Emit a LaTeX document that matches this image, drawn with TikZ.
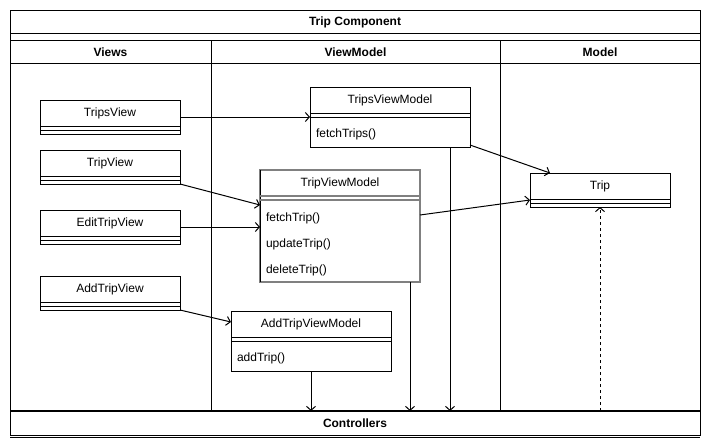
\documentclass[tikz,border=0pt]{standalone}
\usepackage{fontspec}
\setmainfont{Liberation Sans}
\usetikzlibrary{arrows.meta}
\definecolor{hlgray}{RGB}{128,128,128}
\tikzset{
  every node/.style={inner sep=0pt, outer sep=0pt},
  cls/.style={draw=black, line width=1pt, fill=white, rectangle},
  txt/.style={font=\fontsize{12}{14}\selectfont},
  hdr/.style={font=\fontsize{12}{14}\selectfont\bfseries},
  meth/.style={font=\fontsize{12}{14}\selectfont, anchor=west},
  conn/.style={draw=black, line width=1pt, -{Straight Barb[length=4pt, width=9pt, line width=1pt]}},
  dconn/.style={conn, dash pattern=on 3pt off 3pt},
  frame/.style={draw=black, line width=1pt},
}
% name, x, y, width, height, title
\newcommand\umlbox[6]{%
  \node[cls, minimum width=#4pt, minimum height=#5pt, anchor=north west] (#1) at (#2,#3) {};
  \node[txt] (#1-t) at ([yshift=-13pt]#1.north) {#6};
  \draw[line width=1pt] ([yshift=-26pt]#1.north west) -- ([yshift=-26pt]#1.north east);
  \draw[line width=1pt] ([yshift=-30pt]#1.north west) -- ([yshift=-30pt]#1.north east);
}
\begin{document}
\begin{tikzpicture}[x=1pt, y=-1pt]
\useasboundingbox (0,0) rectangle (711,447);
% outer frame
\draw[frame] (10,10) rectangle (700,435);
\draw[frame] (10,33) -- (700,33);
\draw[frame] (10,40) -- (700,40);
\draw[frame] (10,63) -- (700,63);
\draw[frame] (211,40) -- (211,411);
\draw[frame] (500,40) -- (500,411);
\draw[frame] (10,437) -- (700,437);
\node[hdr] (title) at (355,22) {Trip Component};
\node[hdr] (views) at (110.5,52) {Views};
\node[hdr] (vm) at (355.5,52) {ViewModel};
\node[hdr] (model) at (600,52) {Model};
% controllers
\node[minimum width=690pt, minimum height=24pt, anchor=north west] (ctrl) at (10,411) {};
\draw[line width=2pt] (ctrl.north west) -- (ctrl.north east);
\node[hdr] (ctrl-t) at (ctrl.center) {Controllers};
% views
\umlbox{tripsview}{40}{100}{140}{34}{TripsView}
\umlbox{tripview}{40}{150}{140}{34}{TripView}
\umlbox{edittripview}{40}{210}{140}{34}{EditTripView}
\umlbox{addtripview}{40}{276}{140}{34}{AddTripView}
% view models
\umlbox{tvms}{310}{87}{160}{60}{TripsViewModel}
\node[meth] (tvms-m1) at ([xshift=6pt,yshift=-47pt]tvms.north west) {fetchTrips()};
% TripViewModel (highlighted gray border)
\node[cls, draw=hlgray, line width=1.5pt, minimum width=160pt, minimum height=112pt, anchor=north west] (tvm) at (260,170) {};
\draw[line width=1pt] (tvm.north west) -- (tvm.south west);
\node[txt] (tvm-t) at ([yshift=-13pt]tvm.north) {TripViewModel};
\draw[draw=hlgray, line width=1.5pt] ([yshift=-26pt]tvm.north west) -- ([yshift=-26pt]tvm.north east);
\draw[draw=hlgray, line width=1.5pt] ([yshift=-30pt]tvm.north west) -- ([yshift=-30pt]tvm.north east);
\node[meth] (tvm-m1) at ([xshift=6pt,yshift=-48pt]tvm.north west) {fetchTrip()};
\node[meth] (tvm-m2) at ([xshift=6pt,yshift=-74pt]tvm.north west) {updateTrip()};
\node[meth] (tvm-m3) at ([xshift=6pt,yshift=-100pt]tvm.north west) {deleteTrip()};
\umlbox{atvm}{231}{311}{160}{60}{AddTripViewModel}
\node[meth] (atvm-m1) at ([xshift=6pt,yshift=-47pt]atvm.north west) {addTrip()};
% model
\umlbox{trip}{530}{173}{140}{34}{Trip}
% connectors
\draw[conn] (tripsview.east) -- (tvms.west |- tripsview.east);
\draw[conn] (tripview.south east) -- ([yshift=-35pt]tvm.north west);
\draw[conn] (edittripview.east) -- (tvm.west |- edittripview.east);
\draw[conn] (addtripview.south east) -- ([yshift=-11pt]atvm.north west);
\draw[conn] ([yshift=2pt]tvms.south east) -- ([xshift=20pt]trip.north west);
\draw[conn] ([yshift=-45pt]tvm.north east) -- ([yshift=-27pt]trip.north west);
\draw[conn] (atvm.south) -- (atvm.south |- ctrl.north);
\draw[conn] ([xshift=-10pt]tvm.south east) -- ([xshift=-10pt]tvm.south east |- ctrl.north);
\draw[conn] ([xshift=-20pt]tvms.south east) -- ([xshift=-20pt]tvms.south east |- ctrl.north);
\draw[dconn] (trip.south |- ctrl.north) -- (trip.south);
\end{tikzpicture}
\end{document}
